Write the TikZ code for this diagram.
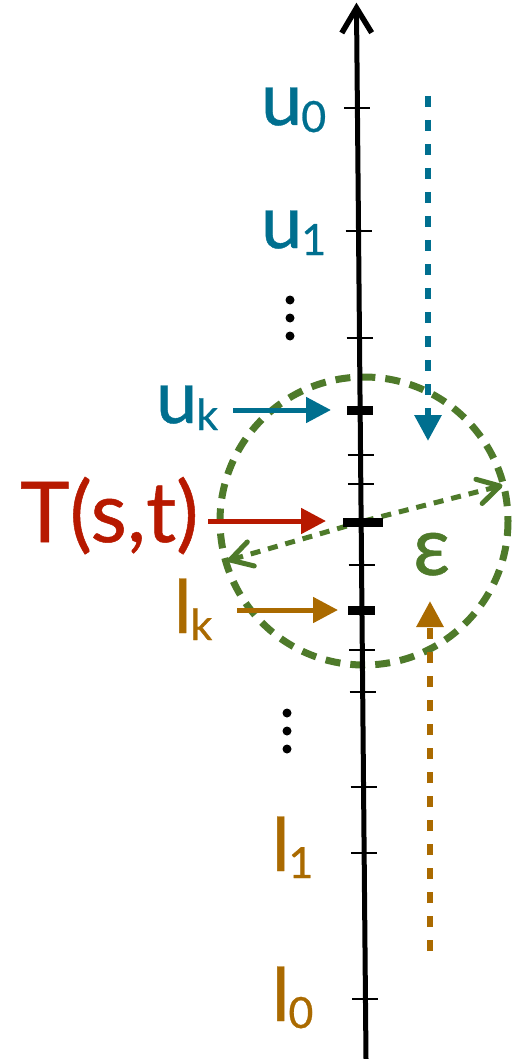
\documentclass[tikz,border=0pt]{standalone}
\usepackage{fontspec}
\setmainfont{Lato}[FakeBold=0.6]
\usetikzlibrary{arrows.meta,calc}
\definecolor{cblue}{RGB}{0,111,143}
\definecolor{cred}{RGB}{183,25,0}
\definecolor{corange}{RGB}{170,106,0}
\definecolor{cgreen}{RGB}{78,122,42}
\newcommand\mybig{\fontsize{74}{74}\selectfont}
\newcommand\mysub[1]{\kern-1pt\raisebox{-7pt}{\fontsize{43}{43}\selectfont #1}}
\begin{document}
\begin{tikzpicture}[x=1pt,y=-1pt,
  lab/.style={anchor=base west,inner sep=0pt,outer sep=0pt},
  thintick/.style={line width=2.2pt},
  thicktick/.style={line width=9pt},
  ptr/.style={line width=5pt,-{Triangle[length=25pt,width=25pt]}},
  dotarrow/.style={line width=6pt,dash pattern=on 11pt off 13pt,-{Triangle[length=26pt,width=26pt]}},
  radius arrow/.style={cgreen,line width=5pt,dash pattern=on 10pt off 8pt},
  barb/.style={line width=5pt,line cap=round,line join=round},
  dotb/.style={circle,fill=black,inner sep=0pt,minimum size=9pt}
]
\useasboundingbox (0,0) rectangle (512,1059);
% green circle and radius arrows
\coordinate (circ) at (364,521);
\coordinate (eR) at (500,486);
\coordinate (eL) at (230,560);
\draw[cgreen,line width=7pt,dash pattern=on 15pt off 10pt] (circ) circle[radius=144];
\draw[radius arrow] (circ) -- ($(eR)!3pt!(circ)$);
\draw[radius arrow] (circ) -- ($(eL)!3pt!(circ)$);
\draw[barb,cgreen] ($(eR)!25pt!30:(circ)$) -- (eR) -- ($(eR)!25pt!-30:(circ)$);
\draw[barb,cgreen] ($(eL)!25pt!30:(circ)$) -- (eL) -- ($(eL)!25pt!-30:(circ)$);
% axis
\coordinate (axbot) at (366,1059);
\coordinate (axtop) at (356.5,8);
\draw[line width=5pt] (axbot) -- (axtop);
\draw[barb,line width=5.5pt,line cap=butt,line join=miter] ($(axtop)!29pt!31:(axbot)$) -- (axtop) -- ($(axtop)!29pt!-31:(axbot)$);
\foreach \y in {108,231,338,455,484,565,650,692,787,853,999}{
  \pgfmathsetmacro\xa{356.5+(\y-5)*0.009}
  \draw[thintick] (\xa-13,\y) -- (\xa+13,\y);
}
\coordinate (tuk) at (360,410);
\coordinate (tT) at (361,522);
\coordinate (tlk) at (362,610);
\draw[thicktick] ($(tuk)+(-13,0)$) -- ($(tuk)+(13,0)$);
\draw[thicktick] ($(tT)+(-18,0)$) -- ($(tT)+(22,0)$);
\draw[thicktick] ($(tlk)+(-14,0)$) -- ($(tlk)+(13,0)$);
% labels
\node[lab,cblue] (u0) at (261,125) {\mybig u\mysub{0}};
\node[lab,cblue] (u1) at (261,248) {\mybig u\mysub{1}};
\node[lab,cblue] (uk) at (156,423) {\mybig u\mysub{k}};
\node[lab,cred] (T) at (20,542) {\fontsize{84}{84}\selectfont T(s,t)};
\node[lab,corange] (lk) at (174,633) {\mybig l\mysub{k}};
\node[lab,corange] (l1) at (272,871) {\mybig l\mysub{1}};
\node[lab,corange] (l0) at (272,1021) {\mybig l\mysub{0}};
\node[lab,cgreen] (eps) at (413,575) {\fontsize{82}{82}\selectfont ε};
% dots
\node[dotb] (d1) at (290,300) {};
\node[dotb] (d2) at (290,318) {};
\node[dotb] (d3) at (290,336) {};
\node[dotb] (d4) at (287,713) {};
\node[dotb] (d5) at (287,731) {};
\node[dotb] (d6) at (287,749) {};
% pointer arrows
\coordinate (ukA) at (233,410);
\coordinate (ukB) at (331,410);
\coordinate (TA) at (208,521);
\coordinate (TB) at (326,521);
\coordinate (lkA) at (237,610);
\coordinate (lkB) at (338,610);
\draw[ptr,cblue] (ukA) -- (ukB);
\draw[ptr,cred] (TA) -- (TB);
\draw[ptr,corange] (lkA) -- (lkB);
% dotted vertical arrows
\coordinate (bA) at (428,96);
\coordinate (bB) at (428,441);
\coordinate (oA) at (430,951);
\coordinate (oB) at (430,601);
\draw[dotarrow,cblue] (bA) -- (bB);
\draw[dotarrow,corange] (oA) -- (oB);
\end{tikzpicture}
\end{document}
